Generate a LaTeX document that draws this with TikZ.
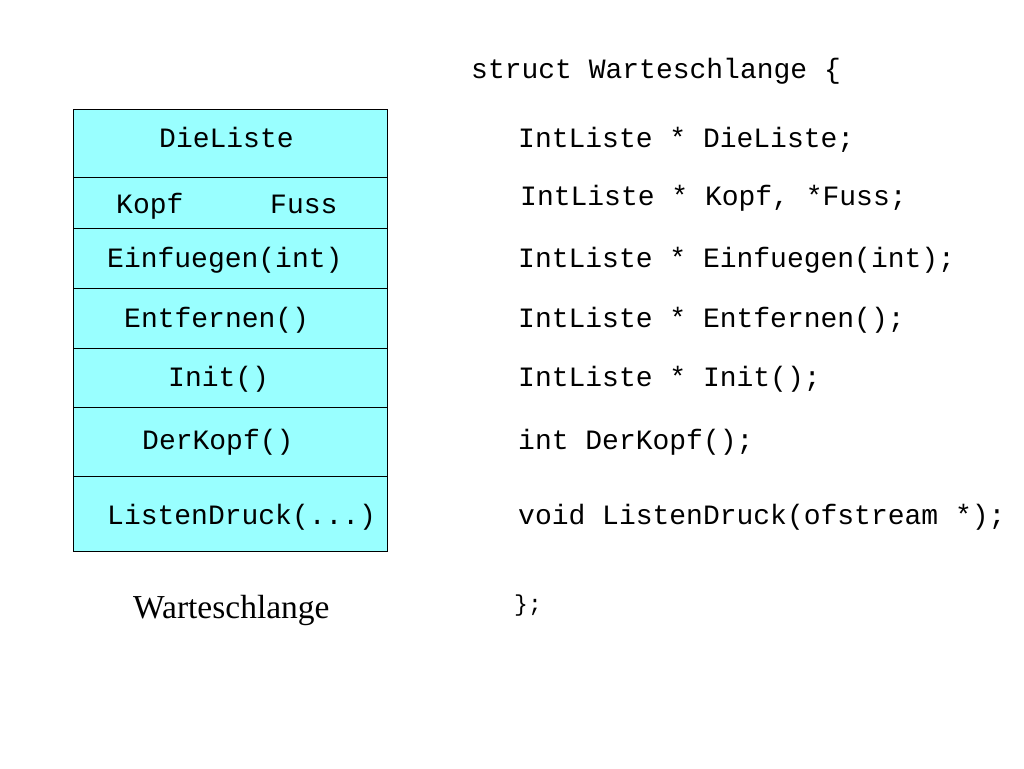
\documentclass[tikz,border=0pt]{standalone}
\usepackage{fontspec}
\setmainfont{Liberation Serif}
\setmonofont{Liberation Mono}
\definecolor{boxcyan}{RGB}{153,255,255}

\begin{document}
\begin{tikzpicture}[x=1pt,y=-1pt,
    field/.style={draw=black,line width=1pt,fill=boxcyan,rectangle,
      minimum width=314pt,inner sep=0pt},
    code/.style={anchor=west,inner sep=0pt,text height=16.6pt,text depth=0pt,
      font=\ttfamily\fontsize{28}{32}\selectfont},
    caption/.style={anchor=west,inner sep=0pt,text height=22pt,text depth=0pt,
      font=\rmfamily\fontsize{33.5}{38}\selectfont}]
  \useasboundingbox (0,0) rectangle (1024,768);

  % Fields of the queue
  \node[field,minimum height=68pt] (liste) at (230,143) {};
  \node[field,minimum height=51pt] (kopffuss) at (230,202.5) {};
  \node[field,minimum height=60pt] (einf) at (230,258) {};
  \node[field,minimum height=60pt] (entf) at (230,318) {};
  \node[field,minimum height=59pt] (init) at (230,377.5) {};
  \node[field,minimum height=69pt] (derkopf) at (230,441.5) {};
  \node[field,minimum height=75pt] (druck) at (230,513.5) {};

  % Labels in the fields
  \node[code] (tliste) at (159,139) {DieListe};
  \node[code] (tkopf) at (116,205) {Kopf};
  \node[code] (tfuss) at (270,205) {Fuss};
  \node[code] (teinf) at (107,259) {Einfuegen(int)};
  \node[code] (tentf) at (124,319) {Entfernen()};
  \node[code] (tinit) at (168,378) {Init()};
  \node[code] (tderkopf) at (142,441) {DerKopf()};
  \node[code] (tdruck) at (107,516) {ListenDruck(...)};

  \node[caption] (name) at (133,607) {Warteschlange};

  % Declaration
  \node[code] (head) at (471,70) {struct Warteschlange \{};
  \node[code] (dliste) at (518,139) {IntListe * DieListe;};
  \node[code] (dkopf) at (520,197) {IntListe * Kopf, *Fuss;};
  \node[code] (deinf) at (518,259) {IntListe * Einfuegen(int);};
  \node[code] (dentf) at (518,319) {IntListe * Entfernen();};
  \node[code] (dinit) at (518,378) {IntListe * Init();};
  \node[code] (dderkopf) at (518,441) {int DerKopf();};
  \node[code] (ddruck) at (518,516) {void ListenDruck(ofstream *);};
  \node[code,text height=14pt,font=\ttfamily\fontsize{23}{26}\selectfont] (tail) at (514,604) {\};};

\end{tikzpicture}
\end{document}
